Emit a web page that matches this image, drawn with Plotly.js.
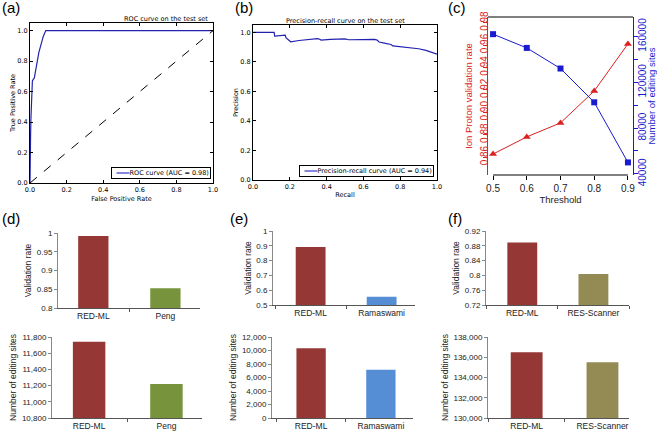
<!DOCTYPE html>
<html><head><meta charset="utf-8">
<script src="https://cdn.plot.ly/plotly-3.0.1.min.js"></script>
<style>html,body{margin:0;padding:0;background:#fff}#chart{width:657px;height:431px}</style>
</head><body><div id="chart"></div>
<script>
// ---------- data ----------
// (a) ROC curve
const rocFpr = [0, 0, 0.003, 0.005, 0.007, 0.010, 0.013, 0.018, 0.024, 0.028, 0.031, 0.035, 0.038, 0.044, 0.049, 0.056, 0.064, 0.072, 0.086, 1.0];
const rocTpr = [0, 0.11, 0.30, 0.42, 0.52, 0.60, 0.67, 0.68, 0.69, 0.72, 0.74, 0.77, 0.80, 0.83, 0.86, 0.89, 0.93, 0.96, 1.0, 1.0];
const chanceX = [0, 1];
const chanceY = [0, 1];
// (b) precision-recall curve
const prRecall = [0, 0.115, 0.118, 0.15, 0.175, 0.18, 0.195, 0.205, 0.25, 0.30, 0.35, 0.36, 0.37, 0.42, 0.48, 0.50, 0.52, 0.58, 0.62, 0.66, 0.675, 0.685, 0.72, 0.75, 0.76, 0.80, 0.85, 0.90, 0.94, 0.97, 1.0];
const prPrecision = [1.0, 1.0, 0.974, 0.976, 0.981, 0.962, 0.948, 0.936, 0.945, 0.952, 0.958, 0.955, 0.948, 0.952, 0.955, 0.956, 0.950, 0.952, 0.949, 0.952, 0.948, 0.935, 0.926, 0.918, 0.908, 0.904, 0.897, 0.889, 0.878, 0.866, 0.853];
// legend labels
const rocLabel = 'ROC curve (AUC = 0.98)';
const prLabel = 'Precision-recall curve (AUC = 0.94)';
// (c) threshold analysis
const thresholds = [0.5, 0.6, 0.7, 0.8, 0.9];
const ionProtonRate = [0.8627, 0.878, 0.8905, 0.919, 0.961];
const editingSitesByThreshold = [162000, 150000, 132000, 102500, 50000];
// (d) RED-ML vs Peng
const dCats = ['RED-ML', 'Peng'];
const dRate = [0.992, 0.853];
const dSites = [11740, 11220];
// (e) RED-ML vs Ramaswami
const eCats = ['RED-ML', 'Ramaswami'];
const eRate = [0.892, 0.555];
const eSites = [10350, 7150];
// (f) RED-ML vs RES-Scanner
const fCats = ['RED-ML', 'RES-Scanner'];
const fRate = [0.889, 0.804];
const fSites = [136500, 135500];
// tick labels
const unitTicks = [0, 0.2, 0.4, 0.6, 0.8, 1.0];
const cLeftTicks = [0.86, 0.88, 0.90, 0.92, 0.94, 0.96, 0.98];
const cLeftText = ['0.86', '0.88', '0.90', '0.92', '0.94', '0.96', '0.98'];
const dRateTicks = [0.8, 0.85, 0.9, 0.95, 1];
const dRateText = ['0.8', '0.85', '0.9', '0.95', '1'];
const eRateTicks = [0.5, 0.6, 0.7, 0.8, 0.9, 1];
const eRateText = ['0.5', '0.6', '0.7', '0.8', '0.9', '1'];
const fRateTicks = [0.72, 0.76, 0.8, 0.84, 0.88, 0.92];
const fRateText = ['0.72', '0.76', '0.8', '0.84', '0.88', '0.92'];

// ---------- colours ----------
const C_RED_ML = '#953735', C_PENG = '#77933C', C_RAMA = '#558ED5', C_RES = '#948A54';
const C_LINE = '#2222b0', C_CRED = '#dd2020', C_CBLUE = '#1a1ad0';

// ---------- geometry helpers ----------
const W = 657, H = 431;
const fx = p => p / W;
const fy = p => 1 - p / H;
const dx = (a, b) => [fx(a), fx(b)];
const dy = (top, bot) => [fy(bot), fy(top)];

const MPL = 'DejaVu Sans, Arial, sans-serif';
const ARIAL = 'Liberation Sans, Arial, sans-serif';

function mplAxis(dom, anchor, range, titleText, standoff) {
  return {
    domain: dom, anchor: anchor, range: range,
    tickvals: unitTicks, tickformat: '.1f',
    ticks: 'inside', ticklen: 3, tickcolor: '#000', mirror: 'allticks',
    showline: true, linecolor: '#000', linewidth: 1,
    showgrid: false, zeroline: false,
    tickfont: {family: MPL, size: 6.5, color: '#000'},
    title: {text: titleText, font: {family: MPL, size: 6.5, color: '#000'}, standoff: standoff}
  };
}
function barX(dom, anchor, range) {
  return {
    domain: dom, anchor: anchor, range: range, type: 'category',
    showline: true, linecolor: '#555', linewidth: 1,
    ticks: 'outside', tickson: 'boundaries', ticklen: 3, tickcolor: '#555',
    showgrid: false, zeroline: false,
    tickfont: {family: ARIAL, size: 8.5, color: '#222'}
  };
}
function barY(dom, anchor, range, tv, tt, titleText, standoff) {
  const a = {
    domain: dom, anchor: anchor, range: range,
    showline: true, linecolor: '#888', linewidth: 1,
    ticks: 'outside', ticklen: 3, tickcolor: '#888',
    showgrid: false, zeroline: false,
    tickfont: {family: ARIAL, size: 8, color: '#222'},
    title: {text: titleText, font: {family: ARIAL, size: 8.5, color: '#222'}, standoff: standoff}
  };
  if (tv) { a.tickvals = tv; a.ticktext = tt; }
  return a;
}

const traces = [
  // (a)
  {x: rocFpr, y: rocTpr, type: 'scatter', mode: 'lines', xaxis: 'x', yaxis: 'y',
   line: {color: C_LINE, width: 1.2}, name: rocLabel, showlegend: false},
  {x: chanceX, y: chanceY, type: 'scatter', mode: 'lines', xaxis: 'x', yaxis: 'y',
   line: {color: '#000', width: 1, dash: 'dash'}, showlegend: false},
  // (b)
  {x: prRecall, y: prPrecision, type: 'scatter', mode: 'lines', xaxis: 'x2', yaxis: 'y2',
   line: {color: C_LINE, width: 1.2}, name: prLabel, showlegend: false},
  // (c)
  {x: thresholds, y: ionProtonRate, type: 'scatter', mode: 'lines+markers', xaxis: 'x3', yaxis: 'y3',
   line: {color: C_CRED, width: 1}, marker: {symbol: 'triangle-up', size: 7, color: C_CRED}, showlegend: false},
  {x: thresholds, y: editingSitesByThreshold, type: 'scatter', mode: 'lines+markers', xaxis: 'x3', yaxis: 'y4',
   line: {color: C_CBLUE, width: 1}, marker: {symbol: 'square', size: 6, color: C_CBLUE}, showlegend: false},
  // (d)
  {x: dCats, y: dRate, type: 'bar', xaxis: 'x4', yaxis: 'y5', width: 0.42,
   marker: {color: [C_RED_ML, C_PENG]}, showlegend: false},
  {x: dCats, y: dSites, type: 'bar', xaxis: 'x5', yaxis: 'y6', width: 0.42,
   marker: {color: [C_RED_ML, C_PENG]}, showlegend: false},
  // (e)
  {x: eCats, y: eRate, type: 'bar', xaxis: 'x6', yaxis: 'y7', width: 0.42,
   marker: {color: [C_RED_ML, C_RAMA]}, showlegend: false},
  {x: eCats, y: eSites, type: 'bar', xaxis: 'x7', yaxis: 'y8', width: 0.42,
   marker: {color: [C_RED_ML, C_RAMA]}, showlegend: false},
  // (f)
  {x: fCats, y: fRate, type: 'bar', xaxis: 'x8', yaxis: 'y9', width: 0.42,
   marker: {color: [C_RED_ML, C_RES]}, showlegend: false},
  {x: fCats, y: fSites, type: 'bar', xaxis: 'x9', yaxis: 'y10', width: 0.42,
   marker: {color: [C_RED_ML, C_RES]}, showlegend: false}
];

const cTop = 17, cBot = 175, cL = 488, cR = 633;
const GAP = '\u00a0\u00a0\u00a0\u00a0\u00a0\u00a0\u00a0\u00a0';

function legendBox(label, xRight, yBottom) {
  return {
    text: GAP + label,
    xref: 'paper', yref: 'paper', x: fx(xRight), y: fy(yBottom), xanchor: 'right', yanchor: 'bottom',
    showarrow: false, align: 'left', bgcolor: 'rgba(0,0,0,0)', bordercolor: '#000', borderwidth: 1, borderpad: 1,
    font: {family: MPL, size: 6.5, color: '#000'}
  };
}
function legendSample(x0, x1, py) {
  return {type: 'line', xref: 'paper', yref: 'paper', x0: fx(x0), x1: fx(x1), y0: fy(py), y1: fy(py),
    line: {color: '#4444cc', width: 1.3}};
}
function panelLabel(t, px, py) {
  return {text: t, xref: 'paper', yref: 'paper', x: fx(px), y: fy(py), xanchor: 'left', yanchor: 'middle',
    showarrow: false, font: {family: ARIAL, size: 15, color: '#000'}};
}

const layout = {
  width: W, height: H,
  margin: {l: 0, r: 0, t: 0, b: 0},
  paper_bgcolor: '#fff', plot_bgcolor: 'rgba(0,0,0,0)',
  showlegend: false,
  // (a)
  xaxis: mplAxis(dx(30, 213), 'y', [0, 1], 'False Positive Rate', 3),
  yaxis: mplAxis(dy(23, 183), 'x', [0, 1.05], 'True Positive Rate', 0),
  // (b)
  xaxis2: mplAxis(dx(253, 437), 'y2', [0, 1], 'Recall', 2),
  yaxis2: mplAxis(dy(25, 180), 'x2', [0, 1.05], 'Precision', 0),
  // (c)
  xaxis3: {domain: dx(cL, cR), anchor: 'y3', range: [0.485, 0.915], tickvals: thresholds,
    ticks: 'outside', ticklen: 4, tickcolor: '#000', showline: false, showgrid: false, zeroline: false,
    tickfont: {family: ARIAL, size: 10, color: '#222'},
    title: {text: 'Threshold', font: {family: ARIAL, size: 9.5, color: '#222'}, standoff: 2}},
  yaxis3: {domain: dy(cTop, cBot), anchor: 'x3', range: [0.844, 0.985],
    tickvals: cLeftTicks, ticktext: cLeftText, tickangle: -90, ticklabelstandoff: -9,
    ticks: 'outside', ticklen: 4, tickcolor: C_CRED, showline: true, linecolor: C_CRED, linewidth: 1,
    showgrid: false, zeroline: false,
    tickfont: {family: ARIAL, size: 10, color: C_CRED},
    title: {text: 'Ion Proton validation rate', font: {family: ARIAL, size: 9.5, color: C_CRED}, standoff: 4}},
  yaxis4: {domain: dy(cTop, cBot), anchor: 'x3', overlaying: 'y3', side: 'right', range: [39000, 177000],
    tick0: 40000, dtick: 40000, tickformat: 'd', tickangle: -90, ticklabelstandoff: -4,
    ticks: 'outside', ticklen: 4, tickcolor: C_CBLUE, showline: true, linecolor: C_CBLUE, linewidth: 1,
    minor: {tick0: 40000, dtick: 20000, ticks: 'outside', ticklen: 4, tickcolor: C_CBLUE, showgrid: false},
    showgrid: false, zeroline: false,
    tickfont: {family: ARIAL, size: 10, color: C_CBLUE},
    title: {text: 'Number of editing sites', font: {family: ARIAL, size: 9.5, color: C_CBLUE}, standoff: 2}},
  // (d)
  xaxis4: barX(dx(58, 200), 'y5', [-0.49, 1.48]),
  yaxis5: barY(dy(233, 308), 'x4', [0.8, 1], dRateTicks, dRateText, 'Validation rate', 3),
  xaxis5: barX(dx(52, 202), 'y6', [-0.48, 1.46]),
  yaxis6: Object.assign(barY(dy(337, 418), 'x5', [10800, 11800], null, null, 'Number of editing sites', 3),
    {tick0: 10800, dtick: 200, tickformat: ',d'}),
  // (e)
  xaxis6: barX(dx(273, 415), 'y7', [-0.53, 1.47]),
  yaxis7: barY(dy(231, 305), 'x6', [0.5, 1], eRateTicks, eRateText, 'Validation rate', 3),
  xaxis7: barX(dx(272, 413), 'y8', [-0.56, 1.46]),
  yaxis8: Object.assign(barY(dy(337, 418), 'x7', [0, 12000], null, null, 'Number of editing sites', 3),
    {tick0: 0, dtick: 2000, tickformat: ',d'}),
  // (f)
  xaxis8: barX(dx(486, 629), 'y9', [-0.51, 1.5]),
  yaxis9: barY(dy(231, 305), 'x8', [0.72, 0.92], fRateTicks, fRateText, 'Validation rate', 3),
  xaxis9: barX(dx(488, 629), 'y10', [-0.51, 1.35]),
  yaxis10: Object.assign(barY(dy(337, 418), 'x9', [130000, 138000], null, null, 'Number of editing sites', 3),
    {tick0: 130000, dtick: 2000, tickformat: ',d'}),
  shapes: [
    {type: 'line', xref: 'paper', yref: 'paper', x0: fx(cL), x1: fx(cR), y0: fy(cTop), y1: fy(cTop),
     line: {color: '#000', width: 1}},
    {type: 'line', xref: 'x3', yref: 'paper', x0: 0.5, x1: 0.9, y0: fy(cBot), y1: fy(cBot),
     line: {color: '#000', width: 1}}
  ],
  annotations: [
    {text: 'ROC curve on the test set', xref: 'paper', yref: 'paper', x: fx(121.5), y: fy(19),
     showarrow: false, font: {family: MPL, size: 6.5, color: '#000'}, yanchor: 'middle'},
    {text: 'Precision-recall curve on the test set', xref: 'paper', yref: 'paper', x: fx(345), y: fy(21),
     showarrow: false, font: {family: MPL, size: 6.5, color: '#000'}, yanchor: 'middle'},
    legendBox(rocLabel, 211, 179),
    legendBox(prLabel, 434, 177),
    panelLabel('(a)', 0, 7),
    panelLabel('(b)', 233, 7),
    panelLabel('(c)', 446, 7),
    panelLabel('(d)', 0, 218),
    panelLabel('(e)', 228, 218),
    panelLabel('(f)', 446, 218)
  ]
};

Plotly.newPlot('chart', traces, layout, {staticPlot: true, displayModeBar: false}).then(function (gd) {
  // legend line samples, placed inside the rendered legend boxes
  const boxes = gd.querySelectorAll('.annotation');
  const root = gd.getBoundingClientRect();
  const extra = [];
  [2, 3].forEach(function (i) {
    const el = boxes[i];
    if (!el) return;
    const r = el.getBoundingClientRect();
    const x0 = r.left - root.left + 5, yc = r.top - root.top + r.height / 2;
    extra.push(legendSample(x0, x0 + 13, yc));
  });
  return Plotly.relayout(gd, {shapes: layout.shapes.concat(extra)});
});
</script>
</body></html>
